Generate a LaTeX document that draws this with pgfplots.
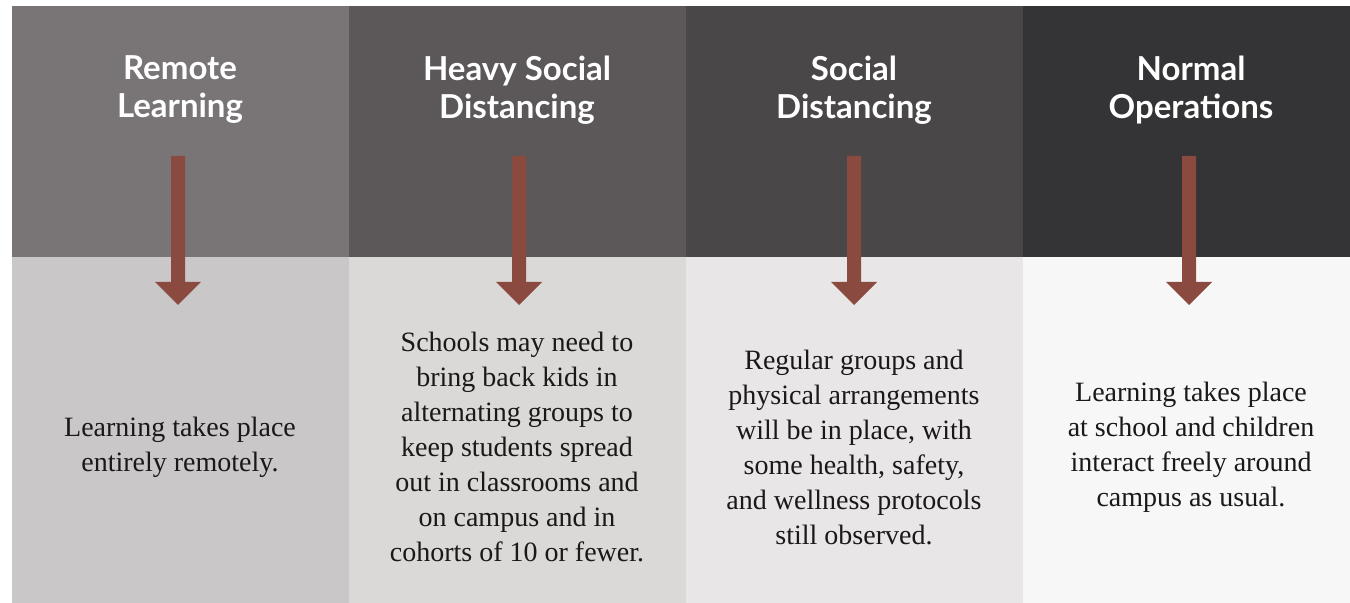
\documentclass[border=0pt]{standalone}
\usepackage{pgfplots}
\pgfplotsset{compat=1.18}
\usepackage{fontspec}
\setmainfont{Liberation Serif}
\newfontfamily\titlefont{Lato}[BoldFont={Lato Bold}]
\definecolor{t1}{HTML}{797576}
\definecolor{t2}{HTML}{5C5758}
\definecolor{t3}{HTML}{4A4748}
\definecolor{t4}{HTML}{343335}
\definecolor{b1}{HTML}{C9C7C8}
\definecolor{b2}{HTML}{DAD9D7}
\definecolor{b3}{HTML}{E8E6E7}
\definecolor{b4}{HTML}{F7F7F7}
\definecolor{arr}{HTML}{8B4A40}
\definecolor{bodytxt}{HTML}{1A1818}
\begin{document}
\begin{tikzpicture}
\begin{axis}[
  width=675pt, height=301.5pt, scale only axis,
  xmin=0, xmax=1350, ymin=0, ymax=603, y dir=reverse,
  hide axis, clip=false,
]
% background
\addplot[fill=white, draw=none] coordinates {(0,0)(1350,0)(1350,603)(0,603)} -- cycle;
% top panels
\addplot[fill=t1, draw=none] coordinates {(12,6)(349.5,6)(349.5,257)(12,257)} -- cycle;
\addplot[fill=t2, draw=none] coordinates {(349,6)(686.5,6)(686.5,257)(349,257)} -- cycle;
\addplot[fill=t3, draw=none] coordinates {(686,6)(1023.5,6)(1023.5,257)(686,257)} -- cycle;
\addplot[fill=t4, draw=none] coordinates {(1023,6)(1350,6)(1350,257)(1023,257)} -- cycle;
% bottom panels
\addplot[fill=b1, draw=none] coordinates {(12,257)(349.5,257)(349.5,603)(12,603)} -- cycle;
\addplot[fill=b2, draw=none] coordinates {(349,257)(686.5,257)(686.5,603)(349,603)} -- cycle;
\addplot[fill=b3, draw=none] coordinates {(686,257)(1023.5,257)(1023.5,603)(686,603)} -- cycle;
\addplot[fill=b4, draw=none] coordinates {(1023,257)(1350,257)(1350,603)(1023,603)} -- cycle;
% arrows
\addplot[fill=arr, draw=none] coordinates {(171,156)(185,156)(185,282)(201,282)(178,305)(155,282)(171,282)} -- cycle;
\addplot[fill=arr, draw=none] coordinates {(512,156)(526,156)(526,282)(542,282)(519,305)(496,282)(512,282)} -- cycle;
\addplot[fill=arr, draw=none] coordinates {(847,156)(861,156)(861,282)(877,282)(854,305)(831,282)(847,282)} -- cycle;
\addplot[fill=arr, draw=none] coordinates {(1182,156)(1196,156)(1196,282)(1212,282)(1189,305)(1166,282)(1182,282)} -- cycle;
% titles
\tikzset{ttl/.style={align=center, text=white, font=\titlefont\bfseries\fontsize{16.5}{19}\selectfont}}
\node[ttl] at (axis cs:180,90) {Remote\\Learning};
\node[ttl] at (axis cs:517,90) {Heavy Social\\Distancing};
\node[ttl] at (axis cs:854,90) {Social\\Distancing};
\node[ttl] at (axis cs:1191,90) {Normal\\Operations};
% body
\tikzset{bdy/.style={align=center, text=bodytxt, font=\fontsize{14}{17.5}\selectfont}}
\node[bdy] at (axis cs:180,447) {Learning takes place\\entirely remotely.};
\node[bdy] at (axis cs:517,447) {Schools may need to\\bring back kids in\\alternating groups to\\keep students spread\\out in classrooms and\\on campus and in\\cohorts of 10 or fewer.};
\node[bdy] at (axis cs:854,447) {Regular groups and\\physical arrangements\\will be in place, with\\some health, safety,\\and wellness protocols\\still observed.};
\node[bdy] at (axis cs:1191,447) {Learning takes place\\at school and children\\interact freely around\\campus as usual.};
\end{axis}
\end{tikzpicture}
\end{document}
